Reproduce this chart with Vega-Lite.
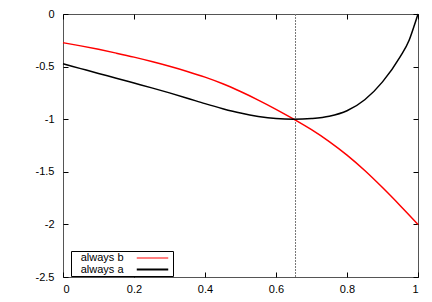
{
  "$schema": "https://vega.github.io/schema/vega-lite/v6.json",
  "width": 355,
  "height": 263,
  "autosize": {"type": "none"},
  "padding": {"left": 63, "top": 14, "right": 14, "bottom": 25},
  "background": "white",
  "config": {
    "view": {"stroke": "#555", "strokeWidth": 1},
    "font": "Liberation Sans",
    "axis": {
      "labelFont": "Liberation Sans",
      "labelFontSize": 11,
      "labelColor": "black",
      "ticks": true,
      "tickColor": "#000000",
      "tickWidth": 1,
      "tickSize": 5,
      "offset": -5,
      "domain": false,
      "grid": false,
      "title": null
    },
    "legend": {
      "labelFont": "Liberation Sans",
      "labelFontSize": 11,
      "labelColor": "black"
    }
  },
  "resolve": {"axis": {"x": "independent", "y": "independent"}},
  "layer": [
    {
      "data": {"values": [{"c": 0.655}]},
      "mark": {"type": "rule", "color": "#777", "strokeDash": [2, 1], "strokeWidth": 1},
      "encoding": {
        "x": {"field": "c", "type": "quantitative", "scale": {"domain": [0, 1], "nice": false, "zero": false},
          "axis": {"values": [0, 0.2, 0.4, 0.6, 0.8, 1], "labelPadding": 6, "labelExpr": "replace(format(datum.value,'~g'),'\u2212','-')"}}
      }
    },
    {
      "data": {"values": [
        {"x": 0.00, "y": -0.273, "s": "always b"},
        {"x": 0.05, "y": -0.303, "s": "always b"},
        {"x": 0.10, "y": -0.336, "s": "always b"},
        {"x": 0.15, "y": -0.372, "s": "always b"},
        {"x": 0.20, "y": -0.410, "s": "always b"},
        {"x": 0.25, "y": -0.452, "s": "always b"},
        {"x": 0.30, "y": -0.497, "s": "always b"},
        {"x": 0.35, "y": -0.546, "s": "always b"},
        {"x": 0.40, "y": -0.600, "s": "always b"},
        {"x": 0.45, "y": -0.663, "s": "always b"},
        {"x": 0.50, "y": -0.737, "s": "always b"},
        {"x": 0.55, "y": -0.818, "s": "always b"},
        {"x": 0.60, "y": -0.906, "s": "always b"},
        {"x": 0.65, "y": -1.000, "s": "always b"},
        {"x": 0.70, "y": -1.100, "s": "always b"},
        {"x": 0.75, "y": -1.213, "s": "always b"},
        {"x": 0.80, "y": -1.342, "s": "always b"},
        {"x": 0.85, "y": -1.488, "s": "always b"},
        {"x": 0.90, "y": -1.650, "s": "always b"},
        {"x": 0.95, "y": -1.822, "s": "always b"},
        {"x": 1.00, "y": -2.000, "s": "always b"},
        {"x": 0.00, "y": -0.473, "s": "always a"},
        {"x": 0.05, "y": -0.519, "s": "always a"},
        {"x": 0.10, "y": -0.565, "s": "always a"},
        {"x": 0.15, "y": -0.610, "s": "always a"},
        {"x": 0.20, "y": -0.656, "s": "always a"},
        {"x": 0.25, "y": -0.702, "s": "always a"},
        {"x": 0.30, "y": -0.750, "s": "always a"},
        {"x": 0.35, "y": -0.800, "s": "always a"},
        {"x": 0.40, "y": -0.852, "s": "always a"},
        {"x": 0.45, "y": -0.900, "s": "always a"},
        {"x": 0.50, "y": -0.942, "s": "always a"},
        {"x": 0.55, "y": -0.974, "s": "always a"},
        {"x": 0.60, "y": -0.994, "s": "always a"},
        {"x": 0.65, "y": -1.000, "s": "always a"},
        {"x": 0.70, "y": -0.993, "s": "always a"},
        {"x": 0.75, "y": -0.972, "s": "always a"},
        {"x": 0.80, "y": -0.920, "s": "always a"},
        {"x": 0.85, "y": -0.815, "s": "always a"},
        {"x": 0.90, "y": -0.645, "s": "always a"},
        {"x": 0.95, "y": -0.405, "s": "always a"},
        {"x": 0.975, "y": -0.250, "s": "always a"},
        {"x": 0.99, "y": -0.105, "s": "always a"},
        {"x": 1.00, "y": 0.000, "s": "always a"}
      ]},
      "mark": {"type": "line", "interpolate": "monotone", "strokeWidth": 1.5},
      "encoding": {
        "x": {"field": "x", "type": "quantitative", "scale": {"domain": [0, 1], "nice": false, "zero": false},
          "axis": {"orient": "top", "values": [0, 0.2, 0.4, 0.6, 0.8, 1], "labels": false}},
        "y": {"field": "y", "type": "quantitative", "scale": {"domain": [-2.5, 0], "nice": false, "zero": false},
          "axis": {"values": [0, -0.5, -1, -1.5, -2, -2.5], "labelPadding": 9, "labelExpr": "replace(format(datum.value,'~g'),'\u2212','-')"}},
        "color": {"field": "s", "type": "nominal",
          "scale": {"domain": ["always b", "always a"], "range": ["#ff0000", "#000000"]},
          "legend": {"orient": "none", "legendX": 8, "legendY": 237, "title": null,
            "symbolType": "M-3,0H3", "symbolSize": 110, "symbolStrokeWidth": 1.5,
            "labelAlign": "right", "labelOffset": -35.5, "symbolOffset": 74,
            "strokeColor": "black", "fillColor": "white", "padding": 1, "rowPadding": 0, "labelLimit": 200}},
        "strokeWidth": {"field": "s", "type": "nominal", "scale": {"domain": ["always b", "always a"], "range": [1.2, 1.8]}, "legend": null}
      }
    },
    {
      "data": {"values": [{"c": 0}]},
      "mark": {"type": "point", "opacity": 0},
      "encoding": {
        "y": {"field": "c", "type": "quantitative", "scale": {"domain": [-2.5, 0], "nice": false, "zero": false},
          "axis": {"orient": "right", "values": [0, -0.5, -1, -1.5, -2, -2.5], "labels": false}}
      }
    }
  ]
}
